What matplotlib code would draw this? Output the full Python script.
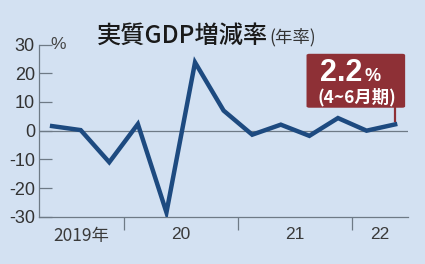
import matplotlib
matplotlib.use("Agg")
import matplotlib.pyplot as plt
from matplotlib.patches import FancyBboxPatch

# quarterly real GDP growth, annualized (2019 Q2 .. 2022 Q2)
quarters = ["2019Q2", "2019Q3", "2019Q4",
            "2020Q1", "2020Q2", "2020Q3", "2020Q4",
            "2021Q1", "2021Q2", "2021Q3", "2021Q4",
            "2022Q1", "2022Q2"]
growth = [1.6, 0.2, -11.0, 2.3, -28.5, 23.8, 7.0, -1.4, 2.1, -1.8, 4.4, 0.0, 2.2]
year_labels = ["2019年", "20", "21", "22"]
y_ticks = [-30, -20, -10, 0, 10, 20, 30]

bg = "#d3e1f2"
line_col = "#1d4a80"
grey = "#6e7a86"
box_col = "#8e3036"
jp = ["Noto Sans CJK JP", "DejaVu Sans"]
num_font = ["Liberation Sans Narrow", "Liberation Sans", "DejaVu Sans"]

fig = plt.figure(figsize=(4.25, 2.64), dpi=100, facecolor=bg)
ax = fig.add_axes([0.092, 0.179, 0.868, 0.652], facecolor=bg)

x = list(range(len(growth)))
ax.plot(x, growth, color=line_col, lw=3.2, solid_joinstyle="miter", zorder=3)
ax.axhline(0, color=grey, lw=0.9, zorder=1)

ax.set_xlim(-0.455, len(growth) - 0.55)
ax.set_ylim(-30, 30)
for s in ["top", "right"]:
    ax.spines[s].set_visible(False)
for s in ["left", "bottom"]:
    ax.spines[s].set_color(grey)
    ax.spines[s].set_linewidth(0.9)

ax.set_yticks(y_ticks)
ax.set_yticklabels([str(v) for v in y_ticks], fontfamily=num_font, fontsize=13,
                   color="#333333")
ax.tick_params(axis="y", direction="in", length=9, width=0.9, color=grey, pad=3)

# year boundaries as ticks, year labels centred in each span
starts = [i for i, q in enumerate(quarters) if i == 0 or q[:4] != quarters[i - 1][:4]]
bounds = [s - 0.5 for s in starts[1:]]
ax.set_xticks(bounds)
ax.set_xticklabels([])
ax.tick_params(axis="x", direction="out", length=9, width=0.9, color=grey)
lo, hi = ax.get_xlim()
edges = [lo] + bounds + [hi]
for k, lab in enumerate(year_labels):
    ax.text((edges[k] + edges[k + 1]) / 2, -33.5, lab, ha="center", va="top",
            fontsize=12.5, color="#3a3a3a", fontfamily=jp if "年" in lab else num_font)

ax.text(0.2, 30, "%", ha="center", va="center", fontsize=12.5, color="#444444",
        fontfamily=num_font)

# title
t1 = fig.text(0.229, 0.837, "実質GDP増減率", fontsize=17.5, fontweight="medium",
              fontfamily=jp, color="#1a1a1a", ha="left", va="baseline")
fig.canvas.draw()
bb = t1.get_window_extent(fig.canvas.get_renderer())
fig.text(bb.x1 / fig.bbox.width + 0.003, 0.84, "(年率)", fontsize=12.5,
         fontfamily=jp, color="#333333", ha="left", va="baseline")

# callout for latest value
last = len(growth) - 1
box = FancyBboxPatch((8.9, 8.0), 3.45, 18.8, boxstyle="round,pad=0,rounding_size=0.1",
                     facecolor=box_col, edgecolor="none", zorder=4, clip_on=False,
                     mutation_aspect=5)
ax.add_patch(box)
ax.plot([last, last], [8.1, growth[last] + 1.0], color=box_col, lw=1.6, zorder=4)
ax.text(10.84, 17.4, "2.2", ha="right", va="baseline", fontsize=22, fontweight="bold",
        color="white", fontfamily=["Liberation Sans", "DejaVu Sans"], zorder=5)
ax.text(10.92, 17.4, "%", ha="left", va="baseline", fontsize=13, fontweight="bold",
        color="white", fontfamily=["Liberation Sans", "DejaVu Sans"], zorder=5)
ax.text(10.66, 10.0, "(4~6月期)", ha="center", va="baseline", fontsize=12.5,
        fontweight="bold", color="white", fontfamily=jp, zorder=5)

fig.savefig("out.png", dpi=100, facecolor=bg)
